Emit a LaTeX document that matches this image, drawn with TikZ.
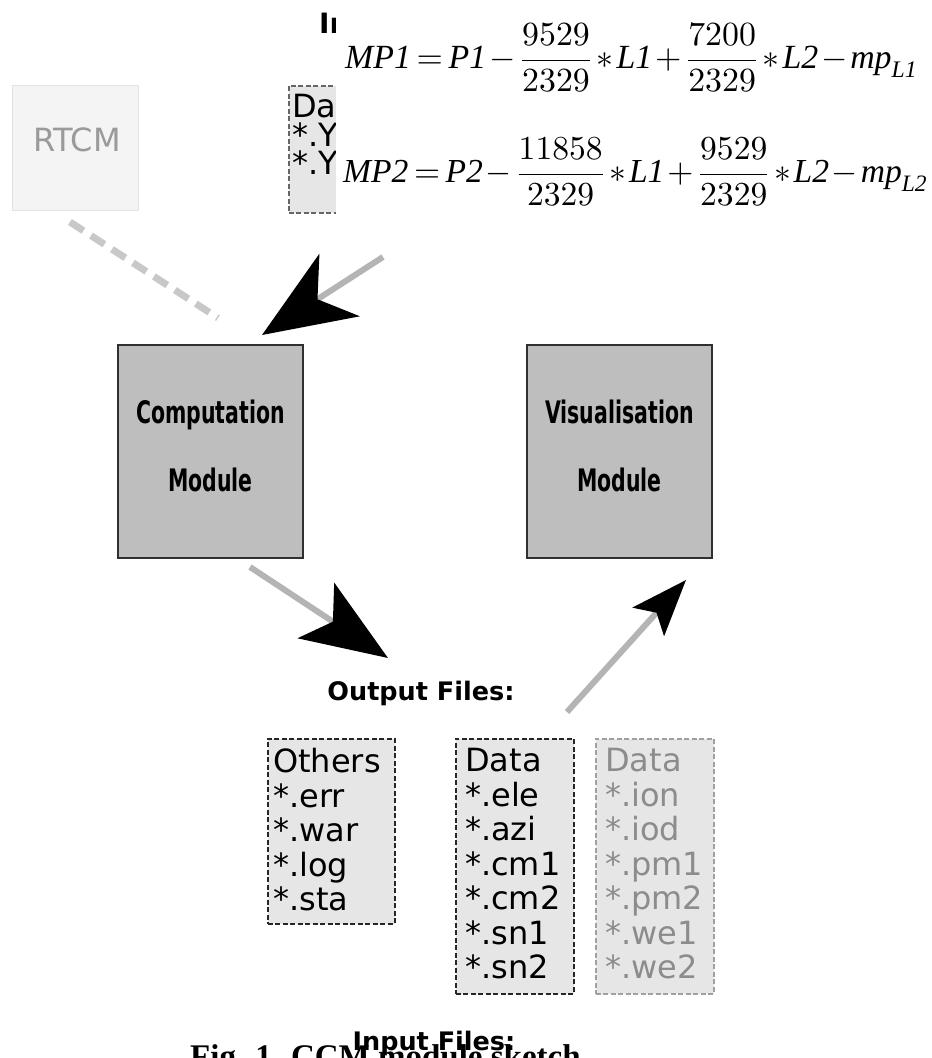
\documentclass[tikz,border=0pt]{standalone}
\usepackage{fontspec}
\usepackage{amsmath}
\usepackage{graphicx}
\setmainfont{Liberation Serif}
\newfontfamily\dvs{DejaVu Sans}
\newfontfamily\dvscond[FakeStretch=0.66]{DejaVu Sans}
\usetikzlibrary{arrows.meta}
\definecolor{modfill}{HTML}{BEBEBE}
\definecolor{modborder}{HTML}{303030}
\definecolor{boxfill}{HTML}{E6E6E6}
\definecolor{rtcmfill}{HTML}{F4F4F4}
\definecolor{rtcmborder}{HTML}{E2E2E2}
\definecolor{rtcmtext}{HTML}{9A9A9A}
\definecolor{linegray}{HTML}{B4B4B4}
\definecolor{dashgray}{HTML}{C8C8C8}
\definecolor{faintgray}{HTML}{8C8C8C}
\definecolor{faintborder}{HTML}{A0A0A0}
\newcommand{\tighteq}[1]{\thickmuskip=3mu\medmuskip=1.5mu$\displaystyle #1$}
\tikzset{
  module/.style={draw=modborder, fill=modfill, line width=2pt, minimum width=185pt, minimum height=213pt, inner sep=0pt},
  modlabel/.style={inner sep=0pt, align=center, font=\dvscond\bfseries\fontsize{31}{68}\selectfont},
  filebox/.style={draw=black!85, fill=boxfill, dash pattern=on 5pt off 2.5pt, line width=1.5pt},
  fadebox/.style={draw=faintborder, fill=boxfill, dash pattern=on 5pt off 2.5pt, line width=1.5pt},
  filetext/.style={anchor=north west, inner sep=0pt, align=left, font=\dvs\fontsize{32}{34.5}\selectfont},
  heading/.style={inner sep=0pt, font=\dvs\bfseries\fontsize{25.5}{30}\selectfont},
  flow/.style={line width=6pt, color=linegray},
}
\begin{document}
\begin{tikzpicture}[x=1pt, y=-1pt]
\path[use as bounding box] (0,0) rectangle (932,1058);
\clip (0,0) rectangle (932,1058);

% RTCM box
\node[draw=rtcmborder, fill=rtcmfill, line width=1pt, minimum width=126pt, minimum height=125pt, inner sep=0pt] (rtcm) at (75,147.5) {};
\node[inner sep=0pt, text=rtcmtext, font=\dvs\fontsize{32}{36}\selectfont] (rtcmlbl) at (77,140) {RTCM};

% partially hidden input header and data box
\node[heading, anchor=base west, font=\dvs\bfseries\fontsize{28}{30}\selectfont] (intop) at (319,33) {Input Files:};
\node[filebox, draw=black!60, minimum width=60pt, minimum height=127pt, inner sep=0pt, anchor=north west] (indata) at (288,85) {};
\node[filetext, font=\dvs\fontsize{32}{28.5}\selectfont] (indatatxt) at (292,94) {Data\\*.YYo\\*.YYn};

% white panel with equations
\fill[white] (336,6) rectangle (932,228);
\node[anchor=west, inner sep=0pt] (eqA) at (345,58) {\resizebox{573pt}{!}{\tighteq{\mathit{MP1} = \mathit{P1} - \frac{9529}{2329}\ast \mathit{L1} + \frac{7200}{2329}\ast \mathit{L2} - \mathit{mp}_{\mathit{L1}}}}};
\node[anchor=west, inner sep=0pt] (eqB) at (343,172) {\resizebox{585pt}{!}{\tighteq{\mathit{MP2} = \mathit{P2} - \frac{11858}{2329}\ast \mathit{L1} + \frac{9529}{2329}\ast \mathit{L2} - \mathit{mp}_{\mathit{L2}}}}};

% modules
\node[module] (comp) at (210.5,451.5) {};
\node[modlabel] (complbl) at ([yshift=6pt]comp.center) {Computation\\Module};
\node[module] (vis) at (619.5,451.5) {};
\node[modlabel] (vislbl) at ([yshift=6pt]vis.center) {Visualisation\\Module};

% connectors
\coordinate (rtcmEnd) at (70,222);
\coordinate (compTop) at (218,318);
\draw[line width=7pt, color=dashgray, dash pattern=on 16pt off 9pt] (rtcmEnd) -- (compTop);

\coordinate (inStart) at (383,257);
\coordinate (inTip) at (262,335);
\draw[flow, -{Stealth[length=92pt, width=74pt, inset=26pt, color=black]}] (inStart) -- (inTip);

\coordinate (compOut) at (250,567);
\coordinate (outTip) at (388,658);
\draw[flow, -{Stealth[length=86pt, width=66pt, inset=20pt, color=black]}] (compOut) -- (outTip);

\coordinate (visStart) at (567,712);
\coordinate (visTip) at (686,580);
\draw[flow, -{Stealth[length=56pt, width=42pt, inset=12pt, color=black]}] (visStart) -- (visTip);

% output files
\node[heading] (outlbl) at (421,693) {Output Files:};

\node[filebox, minimum width=127pt, minimum height=185pt, inner sep=0pt, anchor=north west] (others) at (267,738) {};
\node[filetext] (otherstxt) at (273,748) {Others\\*.err\\*.war\\*.log\\*.sta};

\node[filebox, minimum width=118pt, minimum height=255pt, inner sep=0pt, anchor=north west] (data) at (455,738) {};
\node[filetext] (datatxt) at (465,748) {Data\\*.ele\\*.azi\\*.cm1\\*.cm2\\*.sn1\\*.sn2};

\node[fadebox, minimum width=118pt, minimum height=255pt, inner sep=0pt, anchor=north west] (gdata) at (595,738) {};
\node[filetext, text=faintgray] (gdatatxt) at (605,748) {Data\\*.ion\\*.iod\\*.pm1\\*.pm2\\*.we1\\*.we2};

% bottom caption and input header
\node[anchor=base west, inner sep=0pt, font=\bfseries\fontsize{33}{36}\selectfont] (caption) at (190,1067) {Fig. 1. CCM module sketch};
\node[heading, anchor=base] (inlbl) at (434,1050) {Input Files:};
\end{tikzpicture}
\end{document}
